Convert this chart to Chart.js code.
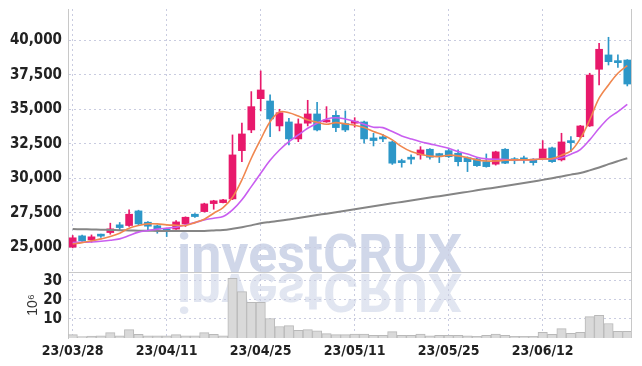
<!DOCTYPE html>
<html>
<head>
<meta charset="utf-8">
<script src="https://cdn.jsdelivr.net/npm/chart.js@4.4.0/dist/chart.umd.min.js"></script>
<style>
body{margin:0;background:#fff;}
</style>
</head>
<body>
<canvas id="stockChart" width="642" height="366"></canvas>
<script>
const dates = ['23/03/28','23/03/29','23/03/30','23/03/31','23/04/03','23/04/04','23/04/05','23/04/06','23/04/07','23/04/10',
'23/04/11','23/04/12','23/04/13','23/04/14','23/04/17','23/04/18','23/04/19','23/04/20','23/04/21','23/04/24',
'23/04/25','23/04/26','23/04/27','23/04/28','23/05/02','23/05/03','23/05/04','23/05/08','23/05/09','23/05/10',
'23/05/11','23/05/12','23/05/15','23/05/16','23/05/17','23/05/18','23/05/19','23/05/22','23/05/23','23/05/24',
'23/05/25','23/05/26','23/05/30','23/05/31','23/06/01','23/06/02','23/06/05','23/06/07','23/06/08','23/06/09',
'23/06/12','23/06/13','23/06/14','23/06/15','23/06/16','23/06/19','23/06/20','23/06/21','23/06/22','23/06/23'];

const openPrices = [25000,25820,25530,25870,26060,26620,26570,27630,26810,26550,
26250,26310,26690,27390,27580,28160,28230,28500,32000,33500,
35770,35600,33790,34080,32850,33990,34660,34080,34560,33960,
33990,34080,32920,32970,32630,31250,31450,31690,32100,31740,
32000,31810,31490,31400,31200,31020,32100,31400,31380,31380,
31400,32200,31330,32650,33010,33790,37900,38940,38500,38570];
const highPrices = [25850,25880,25890,25950,26740,26790,27700,27680,26860,26600,
26300,26930,27200,27440,28190,28400,28470,33140,33990,36280,
37780,36040,35000,34350,34300,35650,35510,35190,34880,34880,
34390,34150,33260,33190,32700,31380,31690,32290,32150,31810,
32170,32050,31550,31450,31760,31960,32150,31500,31600,31420,
32730,32250,33260,33020,33830,37610,39780,40220,38940,38600];
const lowPrices = [24950,25420,25360,25700,25940,26250,26500,26620,26250,26010,
25770,26280,26500,27150,27550,27750,28200,28450,31200,33300,
34880,33020,33430,32410,32650,33790,33430,34050,33380,33380,
33700,32540,32340,32650,31000,30800,31040,31380,31380,31130,
31500,30890,30480,30850,30800,30950,31050,31050,31100,30950,
31380,31150,31250,31930,32930,33750,36760,38210,38040,36690];
const closePrices = [25680,25460,25750,25800,26330,26420,27390,26690,26520,26310,
26180,26830,27170,27220,28140,28360,28430,31690,33210,35190,
36400,34300,34750,32850,33940,34660,33500,34220,33670,33500,
34100,32850,32730,32850,31090,31130,31380,32050,31520,31640,
31560,31200,31200,30910,30840,31910,31090,31270,31330,31130,
32120,31200,32630,32580,33790,37480,39350,38450,38380,36830];

const ma5 = [25240,25330,25460,25600,25770,26010,26380,26570,26690,26690,
26620,26590,26570,26780,27030,27460,27870,28620,29880,31450,
32820,34100,34800,34750,34510,34220,34060,33910,34030,33940,
33840,33670,33380,33140,32780,32290,31930,31740,31600,31570,
31670,31620,31490,31330,31250,31250,31300,31330,31330,31350,
31400,31420,31670,31980,32870,34220,35800,36760,37610,38160];
const ma20 = [25330,25360,25380,25430,25500,25600,25840,26090,26200,26310,
26380,26450,26620,26780,26980,27100,27220,27700,28430,29390,
30360,31300,32050,32650,33140,33620,33990,34300,34390,34300,
34130,33910,33700,33670,33380,33070,32850,32650,32490,32340,
32170,31930,31760,31520,31400,31380,31350,31330,31330,31350,
31400,31400,31490,31740,32080,32780,33620,34350,34830,35360];
const ma60 = [26310,26300,26290,26270,26250,26230,26210,26200,26190,26180,
26170,26170,26170,26180,26180,26210,26250,26340,26450,26580,
26740,26830,26910,27010,27120,27220,27330,27430,27540,27640,
27750,27860,27960,28070,28180,28280,28390,28490,28600,28700,
28800,28910,29010,29120,29230,29330,29440,29540,29650,29760,
29880,30000,30130,30260,30380,30570,30780,31020,31240,31450];

const volumes = [1.8,0.7,1.0,1.2,2.8,1.2,4.4,1.9,1.2,1.2,
1.2,1.8,1.2,1.2,2.8,1.9,1.2,31.3,24.3,18.7,
18.7,10.2,6.0,6.5,4.0,4.4,3.7,2.3,1.8,1.8,
2.0,2.0,1.4,1.4,3.3,1.4,1.4,2.0,1.1,1.4,
1.4,1.4,1.2,0.9,1.4,2.1,1.4,0.9,0.9,0.9,
3.0,1.9,4.9,2.5,3.0,11.2,11.9,7.6,3.5,3.5];

const priceTicks = [25000,27500,30000,32500,35000,37500,40000];
const volumeTicks = [10,20,30];
const dateTicks = ['23/03/28','23/04/11','23/04/25','23/05/11','23/05/25','23/06/12'];

const upColor = '#e8196b';
const downColor = '#2d97c8';
const gridColor = '#c9cce0';
const frameColor = '#c8c8c8';
const tickFont = {family:"'Liberation Sans Narrow','DejaVu Sans Condensed',sans-serif", size:15, weight:'bold'};
const dateFont = {family:"'Liberation Sans Narrow','DejaVu Sans Condensed',sans-serif", size:14, weight:'bold'};

let bodies = [];
let wicks = [];
let candleColors = [];
for(let i=0;i<dates.length;i++){
bodies.push([openPrices[i],closePrices[i]]);
wicks.push([lowPrices[i],highPrices[i]]);
candleColors.push(closePrices[i] >= openPrices[i] ? upColor : downColor);
}

// y axes: fixed width and no extra padding for the first/last label
function fitLeft(s){
s.width = 68;
s.paddingTop = 0;
s.paddingBottom = 0;
}

// big faded logo with its mirror image under the price pane
const watermark = {
id:'watermark',
beforeDraw(chart){
const ctx = chart.ctx;
const base = chart.scales.y.bottom;
const x = chart.chartArea.left + 109;
ctx.save();
ctx.font = "bold 54px Roboto, 'DejaVu Sans', sans-serif";
let w = ctx.measureText('investCRUX').width;
let sx = 285 / w;
ctx.translate(x, base);
ctx.save();
ctx.scale(sx, 1);
ctx.fillStyle = '#d0d7e9';
ctx.fillText('investCRUX', 0, 0);
ctx.restore();
ctx.scale(sx, -1);
let grad = ctx.createLinearGradient(0, 0, 0, 42);
grad.addColorStop(0, 'rgba(215,221,236,0.75)');
grad.addColorStop(1, 'rgba(215,221,236,0.45)');
ctx.fillStyle = grad;
ctx.fillText('investCRUX', 0, -2);
ctx.restore();
}
};

const frame = {
id:'frame',
afterDatasetsDraw(chart){
const ctx = chart.ctx;
const area = chart.chartArea;
const sep = Math.round(chart.scales.y.bottom) + 0.5;
ctx.save();
ctx.strokeStyle = frameColor;
ctx.lineWidth = 1;
ctx.beginPath();
ctx.moveTo(area.left, sep);
ctx.lineTo(area.right, sep);
ctx.moveTo(Math.round(area.right) - 0.5, area.top);
ctx.lineTo(Math.round(area.right) - 0.5, area.bottom);
ctx.stroke();
ctx.restore();
}
};

new Chart(document.getElementById('stockChart'),{
type:'bar',
data:{
labels:dates,
datasets:[
{type:'line',label:'MA5',data:ma5,borderColor:'#f0874f',borderWidth:1.6,pointRadius:0,tension:0.35,yAxisID:'y',order:0},
{type:'line',label:'MA20',data:ma20,borderColor:'#c95ef0',borderWidth:1.6,pointRadius:0,tension:0.35,yAxisID:'y',order:1},
{type:'line',label:'MA60',data:ma60,borderColor:'#858585',borderWidth:2,pointRadius:0,tension:0.35,yAxisID:'y',order:2},
{label:'body',data:bodies,backgroundColor:candleColors,barThickness:7,minBarLength:2,grouped:false,yAxisID:'y',order:3},
{label:'wick',data:wicks,backgroundColor:candleColors,barThickness:1,grouped:false,yAxisID:'y',order:4},
{label:'volume',data:volumes,backgroundColor:'#d9d9d9',borderColor:'#b9b9b9',borderWidth:1,barPercentage:1,categoryPercentage:1,grouped:false,yAxisID:'yv',order:5}
]
},
options:{
responsive:false,
animation:false,
devicePixelRatio:1,
layout:{padding:{top:9,right:10,left:0,bottom:0}},
plugins:{legend:{display:false},tooltip:{enabled:false}},
scales:{
x:{
offset:true,
grid:{offset:false,color:gridColor,drawTicks:false},
border:{display:false,dash:[2,3]},
ticks:{autoSkip:false,maxRotation:0,color:'#222',font:dateFont,padding:5},
afterBuildTicks:s=>{ s.ticks = s.ticks.filter(t=>dateTicks.includes(dates[t.value])); },
afterFit:s=>{ s.height = 28; s.paddingLeft = 0; s.paddingRight = 0; }
},
yv:{
position:'left',
stack:'pane',
stackWeight:66,
min:0,
max:34.55,
grid:{color:gridColor,drawTicks:false},
border:{display:true,color:frameColor,dash:[2,3]},
ticks:{autoSkip:false,color:'#222',font:tickFont,padding:6},
title:{display:true,text:'10⁶',color:'#333',font:{family:"'Liberation Sans',sans-serif",size:14},padding:{top:25,bottom:0}},
afterBuildTicks:s=>{ s.ticks = volumeTicks.map(v=>({value:v})); },
afterFit:fitLeft
},
y:{
position:'left',
stack:'pane',
stackWeight:263,
min:23200,
max:42270,
grid:{color:gridColor,drawTicks:false},
border:{display:true,color:frameColor,dash:[2,3]},
ticks:{autoSkip:false,color:'#222',font:tickFont,padding:6,callback:v=>v.toLocaleString('en-US')},
afterBuildTicks:s=>{ s.ticks = priceTicks.map(v=>({value:v})); },
afterFit:fitLeft
}
}
},
plugins:[watermark,frame]
});
</script>
</body>
</html>
